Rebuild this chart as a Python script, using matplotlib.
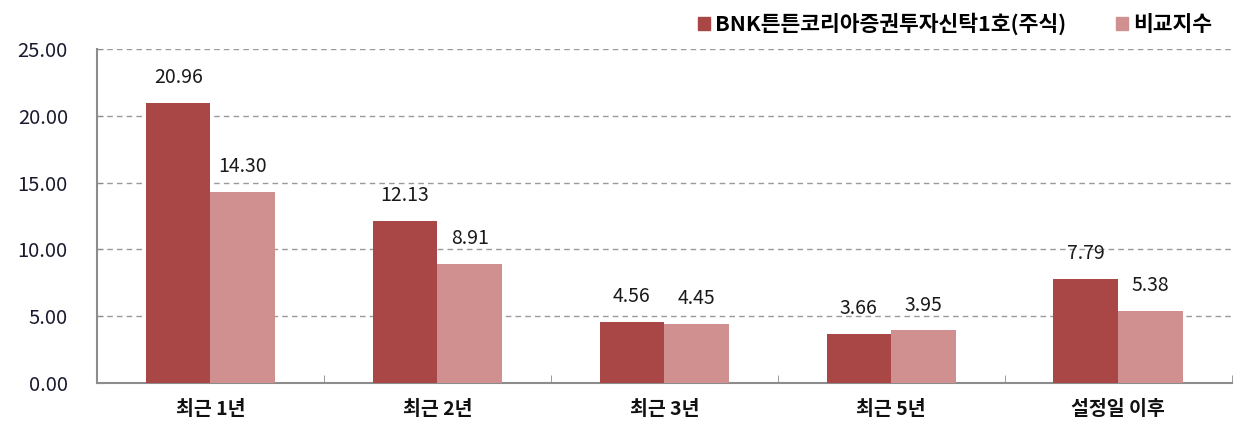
import numpy as np
import matplotlib.pyplot as plt
from matplotlib.patches import Patch

plt.rcParams['font.family'] = ['Noto Sans CJK KR', 'DejaVu Sans']

categories = ['최근 1년', '최근 2년', '최근 3년', '최근 5년', '설정일 이후']
fund = [20.96, 12.13, 4.56, 3.66, 7.79]
bench = [14.30, 8.91, 4.45, 3.95, 5.38]
names = ['BNK튼튼코리아증권투자신탁1호(주식)', '비교지수']

c_dark = '#A84745'
c_light = '#D19090'
grey = '#8c8c8c'

fig = plt.figure(figsize=(12.44, 4.32), dpi=100)
ax = fig.add_axes([0.078, 0.1134, 0.912, 0.7732])

x = np.arange(len(categories))
w = 0.285
ax.bar(x - w / 2, fund, w, color=c_dark, zorder=3)
ax.bar(x + w / 2, bench, w, color=c_light, zorder=3)

for i in range(len(x)):
    ax.text(x[i] - w / 2, fund[i] + 1.1, f'{fund[i]:.2f}', ha='center', va='bottom',
            fontsize=14, color='#1a1a1a')
    ax.text(x[i] + w / 2, bench[i] + 1.1, f'{bench[i]:.2f}', ha='center', va='bottom',
            fontsize=14, color='#1a1a1a')

ax.set_xlim(-0.5, len(categories) - 0.5)
ax.set_ylim(0, 25)
ax.set_yticks(np.arange(0, 26, 5))
ax.set_yticklabels([f'{v:.2f}' for v in np.arange(0, 26, 5)], fontsize=14.5, color='#1a1a2e')
ax.yaxis.grid(True, linestyle=(0, (4, 3)), color='#9a9a9a', linewidth=1, zorder=0)

ax.set_xticks(x)
ax.set_xticklabels(categories, fontsize=14, fontweight='bold', color='#111111')
ax.tick_params(axis='x', length=0, pad=12)
ax.set_xticks(np.arange(-0.5, len(categories)), minor=True)
ax.tick_params(axis='x', which='minor', length=6, direction='in', color=grey)
ax.tick_params(axis='y', length=4, direction='in', color=grey, pad=21)

for s in ['top', 'right']:
    ax.spines[s].set_visible(False)
ax.spines['left'].set_color(grey)
ax.spines['bottom'].set_color(grey)
ax.spines['left'].set_linewidth(1.5)
ax.spines['bottom'].set_linewidth(1.5)

handles = [Patch(color=c_dark), Patch(color=c_light)]
leg = fig.legend(handles, names, loc='upper right', bbox_to_anchor=(0.99, 1.015), ncol=2,
                 frameon=False, handlelength=0.55, handleheight=0.55, handletextpad=0.25,
                 columnspacing=2.3, prop={'size': 15.5, 'weight': 'bold'})

fig.savefig('out.png', dpi=100)
